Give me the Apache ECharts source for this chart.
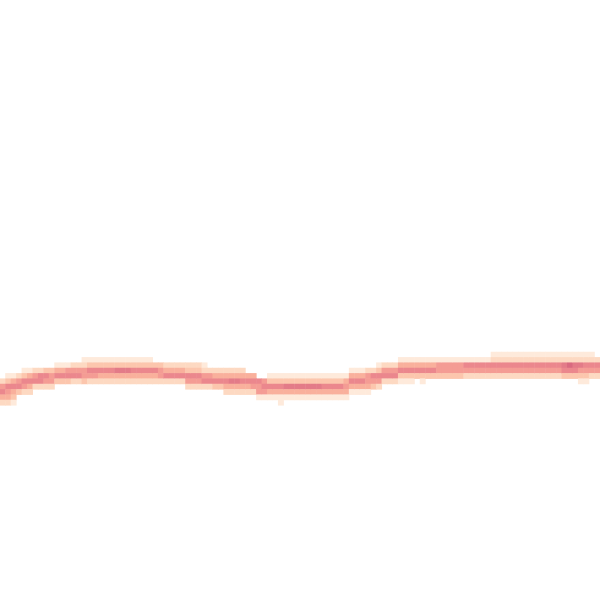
<!DOCTYPE html>
<html>
<head>
<meta charset="utf-8">
<title>heatmap band</title>
<script src="https://cdn.jsdelivr.net/npm/echarts@6/dist/echarts.min.js"></script>
<style>
    html, body { margin: 0; padding: 0; background: #fff; }
    #main { width: 600px; height: 600px; }
</style>
</head>
<body>
<div id="main"></div>
<script>
// grid size (cells)
const colCount = 110
const rowCount = 112

// per column: [first row from top, intensity of each cell going down]
const columns = [
    [71, '25642'], [70, '136542'], [70, '146431'], [70, '2563'], [69, '13652'],
    [69, '14642'], [69, '2562'], [69, '2662'], [69, '3652'], [69, '3552'],
    [68, '1463'], [68, '1463'], [68, '1563'], [68, '2562'], [68, '2562'],
    [67, '12553'], [67, '13652'], [67, '13652'], [67, '13642'], [67, '13642'],
    [67, '13642'], [67, '13742'], [67, '13742'], [67, '13742'], [67, '13642'],
    [67, '13642'], [67, '13642'], [67, '13642'], [68, '3642'], [68, '3552'],
    [68, '2462'], [68, '2462'], [68, '2462'], [68, '2462'], [68, '23652'],
    [68, '23652'], [68, '23652'], [68, '12562'], [69, '2562'], [69, '2463'],
    [69, '2463'], [69, '24642'], [69, '24742'], [69, '24742'], [69, '24642'],
    [70, '4642'], [70, '4652'], [71, '6551'], [71, '5651'], [70, '13641'],
    [70, '13641'], [70, '136411'], [70, '13741'], [70, '13741'], [70, '13741'],
    [70, '13741'], [70, '13741'], [70, '13741'], [70, '13741'], [70, '13641'],
    [70, '13641'], [70, '13641'], [70, '13641'], [70, '14541'], [69, '14641'],
    [69, '14641'], [69, '14641'], [69, '25541'], [69, '2653'], [68, '13652'],
    [68, '2562'], [68, '2562'], [68, '2562'], [67, '14631'], [67, '14631'],
    [67, '14631'], [67, '1463'], [67, '14631'], [67, '1463'], [67, '1463'],
    [67, '1553'], [67, '1553'], [67, '1553'], [67, '1553'], [67, '1553'],
    [67, '1652'], [67, '1652'], [67, '1652'], [67, '1652'], [67, '1652'],
    [66, '12652'], [66, '12652'], [66, '12652'], [66, '12652'], [66, '12652'],
    [66, '12652'], [66, '12652'], [66, '12652'], [66, '12652'], [66, '12652'],
    [66, '12652'], [66, '12652'], [66, '12652'], [66, '12763'], [66, '12863'],
    [66, '12763'], [66, '127531'], [66, '126531'], [66, '12652'], [67, '2652']
]

const colorSteps = ['#feeadb', '#fdd9c2', '#fcc6ad', '#f9b09c', '#f49c94', '#eb878d', '#e37b88', '#d96a80']

let xCats = Array.from({length: colCount}, (v, i) => i)
let yCats = Array.from({length: rowCount}, (v, i) => i)

let cells = []
columns.forEach(([top, vals], c) => {
    for (let i = 0; i < vals.length; i++) {
        cells.push([c, top + i, Number(vals[i])])
    }
})

let myChart = echarts.init(document.getElementById('main'))
myChart.setOption({
    animation: false,
    grid: {
        left: 0,
        top: 0,
        width: 600,
        height: rowCount * 600 / 112.5,
        outerBoundsMode: 'none'
    },
    xAxis: {
        type: 'category',
        data: xCats,
        show: false
    },
    yAxis: {
        type: 'category',
        data: yCats,
        inverse: true,
        show: false
    },
    visualMap: {
        show: false,
        min: 1,
        max: 8,
        inRange: {
            color: colorSteps
        }
    },
    series: [{
        type: 'heatmap',
        data: cells,
        itemStyle: {
            borderWidth: 0
        },
        emphasis: {
            disabled: true
        }
    }]
})
</script>
</body>
</html>
